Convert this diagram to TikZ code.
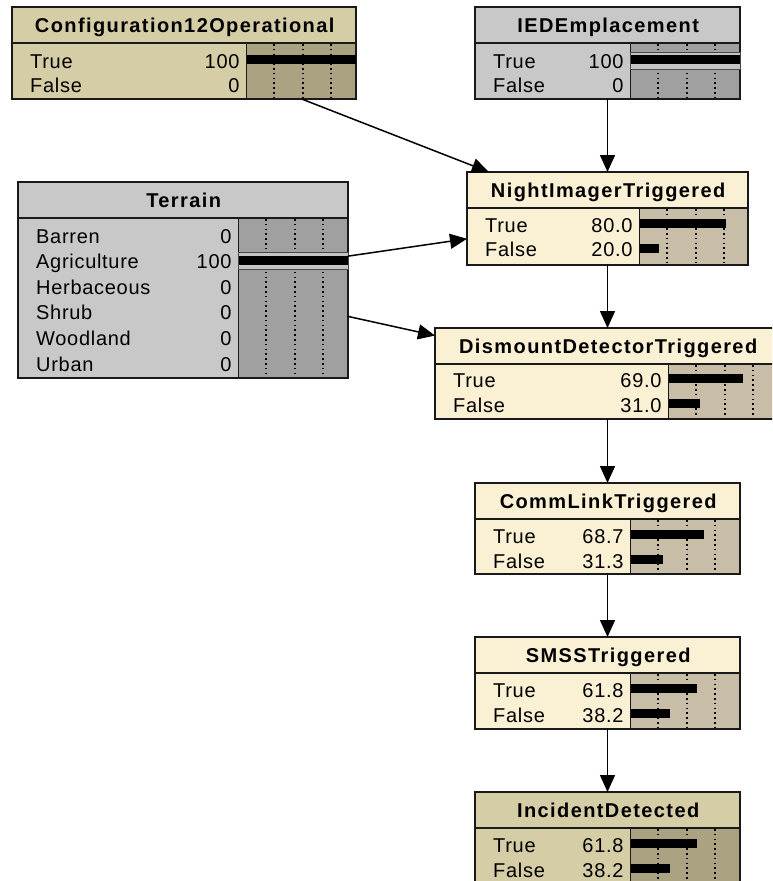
\documentclass[tikz,border=0pt]{standalone}
\usepackage{fontspec}
\setmainfont{Liberation Sans}
\newfontfamily\labfont[LetterSpace=3.5]{Liberation Sans}
\newfontfamily\titfont[LetterSpace=7]{Liberation Sans}
\usetikzlibrary{arrows.meta}
\definecolor{grayB}{RGB}{200,200,200}
\definecolor{grayR}{RGB}{160,160,160}
\definecolor{tanB}{RGB}{213,205,165}
\definecolor{tanR}{RGB}{170,162,128}
\definecolor{crmB}{RGB}{250,240,212}
\definecolor{crmR}{RGB}{200,190,168}
\definecolor{edge}{RGB}{25,25,25}
\definecolor{hlc}{RGB}{196,196,196}
\tikzset{
  bnframe/.style={rectangle, inner sep=0pt, outer sep=0pt, draw=none},
  bnedge/.style={draw=edge, line width=1.5pt},
  bnsep/.style={draw=edge, line width=1pt},
  dotline/.style={draw=black, line width=1.3pt, dash pattern=on 1.6pt off 3.2pt},
  bnlab/.style={inner sep=0pt, font=\labfont\fontsize{20}{24}\selectfont},
  bntitle/.style={inner sep=0pt, anchor=base, font=\titfont\bfseries\fontsize{20}{24}\selectfont},
  bnarrow/.style={draw=black, line width=1.5pt, -{Triangle[length=17pt,width=15pt]}}
}
% #1 name, #2 L, #3 T, #4 R, #5 bar-left, #6 bottom, #7 scheme, #8 title
\newcommand{\bnbox}[8]{%
  \pgfmathsetmacro\bnW{#4-#2}\pgfmathsetmacro\bnH{#6-#3}%
  \node[bnframe, fill=#7B, minimum width=\bnW pt, minimum height=\bnH pt] (#1) at ({(#2+#4)/2},{(#3+#6)/2}) {};
  \fill[#7R] ({#5},{#3+36}) rectangle ({#4},{#6});
  \foreach \dd in {28,57,85} {\draw[dotline] ({#5+\dd},{#3+37}) -- ({#5+\dd},{#6});}
  \draw[bnsep] ({#5},{#3+36}) -- ({#5},{#6});
  \draw[bnedge] ({#2},{#3+36}) -- ({#4},{#3+36});
  \draw[bnedge] (#1.north west) rectangle (#1.south east);
  \node[bntitle] (#1-title) at ({(#2+#4)/2+0.7},{#3+25}) {#8};
}
% #1 box, #2 L, #3 bar-left, #4 baseline, #5 label, #6 value, #7 pct
\newcommand{\bnrow}[7]{%
  \node[bnlab, anchor=base west] (#1-#5) at ({#2+18},{#4}) {#5};
  \node[bnlab, anchor=base east] (#1-#5-v) at ({#3-6.3},{#4}) {#6};
  \ifdim #7pt>0pt
    \fill[black] ({#3+1},{#4-13}) rectangle ({#3+1+1.12*#7-3.5},{#4-4});
  \fi
}
% highlight band: #1 bar-left, #2 right, #3 baseline
\newcommand{\bnhl}[3]{%
  \filldraw[fill=hlc, draw=edge!80, line width=0.8pt] ({#1},{#3-16}) rectangle ({#2},{#3+1});
}
\begin{document}
\begin{tikzpicture}[x=1pt,y=-1pt]
\useasboundingbox (0,0) rectangle (772,881);
\fill[white] (0,0) rectangle (772,881);
\clip (0,0) rectangle (772,881);

% Configuration12Operational
\bnbox{cfg}{12}{7}{356}{246}{99}{tan}{Configuration12Operational}
\bnrow{cfg}{12}{246}{68}{True}{100}{100}
\bnrow{cfg}{12}{246}{92}{False}{0}{0}

% IEDEmplacement
\bnbox{ied}{475}{7}{740}{630}{99}{gray}{IEDEmplacement}
\bnhl{630}{740}{68}
\bnrow{ied}{475}{630}{68}{True}{100}{100}
\bnrow{ied}{475}{630}{92}{False}{0}{0}

% Terrain
\bnbox{terrain}{18}{182}{348}{238}{378}{gray}{Terrain}
\bnhl{238}{348}{268.6}
\bnrow{terrain}{18}{238}{243}{Barren}{0}{0}
\bnrow{terrain}{18}{238}{268.6}{Agriculture}{100}{100}
\bnrow{terrain}{18}{238}{294.2}{Herbaceous}{0}{0}
\bnrow{terrain}{18}{238}{319.8}{Shrub}{0}{0}
\bnrow{terrain}{18}{238}{345.4}{Woodland}{0}{0}
\bnrow{terrain}{18}{238}{371}{Urban}{0}{0}

% NightImagerTriggered
\bnbox{night}{467}{172}{748}{639}{265}{crm}{NightImagerTriggered}
\bnrow{night}{467}{639}{232}{True}{80.0}{80}
\bnrow{night}{467}{639}{256.5}{False}{20.0}{20}

% DismountDetectorTriggered
\bnbox{dismount}{435}{328}{780}{668}{419}{crm}{DismountDetectorTriggered}
\bnrow{dismount}{435}{668}{387}{True}{69.0}{69}
\bnrow{dismount}{435}{668}{412}{False}{31.0}{31}

% CommLinkTriggered
\bnbox{comm}{475}{483}{740}{630}{574}{crm}{CommLinkTriggered}
\bnrow{comm}{475}{630}{543}{True}{68.7}{68.7}
\bnrow{comm}{475}{630}{568}{False}{31.3}{31.3}

% SMSSTriggered
\bnbox{smss}{475}{637}{740}{630}{729}{crm}{SMSSTriggered}
\bnrow{smss}{475}{630}{697}{True}{61.8}{61.8}
\bnrow{smss}{475}{630}{722}{False}{38.2}{38.2}

% IncidentDetected
\bnbox{incident}{475}{792}{740}{630}{884}{tan}{IncidentDetected}
\bnrow{incident}{475}{630}{852}{True}{61.8}{61.8}
\bnrow{incident}{475}{630}{877}{False}{38.2}{38.2}

% connectors
\draw[bnarrow] (cfg) -- (night);
\draw[bnarrow] (ied) -- (night);
\draw[bnarrow] (terrain) -- (night);
\draw[bnarrow] (terrain) -- (dismount);
\draw[bnarrow] (night) -- (dismount);
\draw[bnarrow] (dismount) -- (comm);
\draw[bnarrow] (comm) -- (smss);
\draw[bnarrow] (smss) -- (incident);
\end{tikzpicture}
\end{document}
